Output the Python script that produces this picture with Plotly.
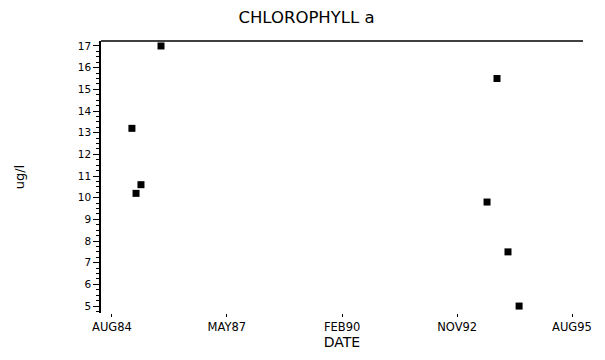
import plotly.graph_objects as go

# Data
dates = ["1985-01-22", "1985-02-27", "1985-04-11", "1985-10-03",
         "1993-07-20", "1993-10-15", "1994-01-19", "1994-04-26"]
chl = [13.2, 10.2, 10.6, 17.0, 9.8, 15.5, 7.5, 5.0]

x_tickvals = ["1984-08-01", "1987-05-01", "1990-02-01", "1992-11-01", "1995-08-01"]
x_ticktext = ["AUG84", "MAY87", "FEB90", "NOV92", "AUG95"]
y_tickvals = list(range(5, 18))

font_family = "DejaVu Sans"

fig = go.Figure()
fig.add_trace(go.Scatter(
    x=dates, y=chl, mode="markers",
    marker=dict(symbol="square", size=7, color="black", line=dict(width=0)),
    showlegend=False, cliponaxis=False,
))

# page body has an 8px margin, so the figure is drawn at (8, 8)
fig.update_layout(
    width=597, height=352,
    margin=dict(l=93, r=22, t=33, b=47),
    paper_bgcolor="white", plot_bgcolor="white",
    title=dict(text="CHLOROPHYLL a", x=0.5, xanchor="center", y=0.991, yanchor="top",
               pad=dict(t=0, b=0),
               font=dict(family=font_family, size=16.5, color="black")),
    font=dict(family=font_family, color="black"),
)

fig.update_xaxes(
    type="date",
    range=["1984-04-27", "1995-11-05"],
    tickvals=x_tickvals, ticktext=x_ticktext,
    showgrid=False, zeroline=False, showline=False,
    ticks="outside", ticklen=3, tickcolor="black", tickwidth=1,
    tickfont=dict(size=11.5, family=font_family),
    title=dict(text="DATE", font=dict(size=14, family=font_family), standoff=2),
)

fig.update_yaxes(
    range=[4.68, 17.23],
    tickvals=y_tickvals,
    showgrid=False, zeroline=False,
    showline=True, linecolor="black", linewidth=1.5,
    ticks="outside", ticklen=6, tickcolor="black", tickwidth=1,
    minor=dict(dtick=0.25, ticks="outside", ticklen=3, tickcolor="black", showgrid=False),
    tickfont=dict(size=10.5, family=font_family),
    title=dict(text="ug/l", font=dict(size=13, family=font_family), standoff=50),
)

# top border line
fig.add_shape(type="line", xref="paper", yref="paper", x0=0, x1=1, y0=1, y1=1,
              line=dict(color="black", width=1.5))

fig.write_html("out.html")
